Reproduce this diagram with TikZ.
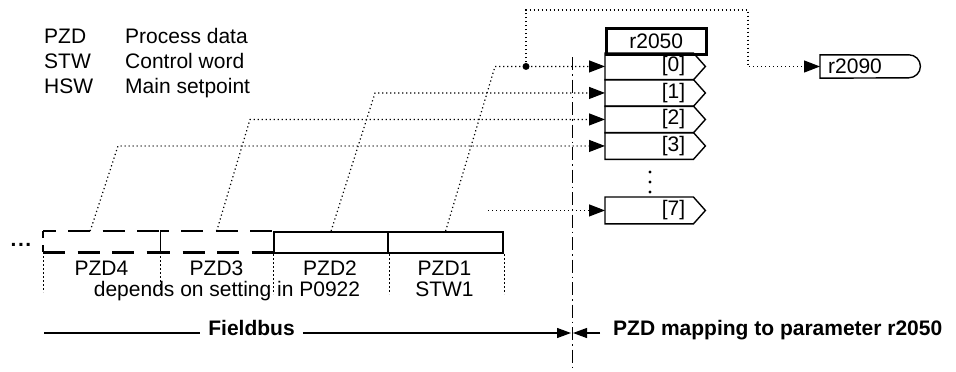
\documentclass[tikz,border=0pt]{standalone}
\usepackage{fontspec}
\setmainfont{Liberation Sans}
\usetikzlibrary{arrows.meta,calc}
\begin{document}
\begin{tikzpicture}[x=1pt,y=-1pt,
  every node/.style={font=\fontsize{21}{24}\selectfont},
  dotline/.style={line width=1.2pt, dash pattern=on 1.2pt off 2.8pt},
  inarrow/.style={-{Triangle[length=16pt,width=12pt]}},
  botarrow/.style={-{Triangle[length=14pt,width=10pt]}},
  thinline/.style={line width=1.1pt},
  slotbox/.style={minimum height=26.5pt, text width=72pt, inner xsep=8pt, inner ysep=0pt, align=right, anchor=north west},
  slotline/.style={line width=1.4pt},
  pzdbox/.style={minimum height=21pt, inner sep=0pt, anchor=north west},
  solidbox/.style={draw, line width=2.2pt},
  dashbox/.style={line width=2.2pt, dash pattern=on 22pt off 12.5pt},
  legend/.style={anchor=base west, inner sep=0pt},
  lab/.style={anchor=base, inner sep=0pt},
  underline/.style={line width=0.8pt, dash pattern=on 2pt off 2pt},
  dashdot/.style={line width=1pt, dash pattern=on 13pt off 4pt on 1.5pt off 4pt}
]
\useasboundingbox (0,0) rectangle (956,372);

% legend
\node[legend] (l1a) at (44,43) {PZD};
\node[legend] (l1b) at (125,43) {Process data};
\node[legend] (l2a) at (44,68) {STW};
\node[legend] (l2b) at (125,68) {Control word};
\node[legend] (l3a) at (44,93) {HSW};
\node[legend] (l3b) at (125,93) {Main setpoint};

% parameter r2050
\node[draw, line width=2.5pt, minimum width=100pt, minimum height=26pt, inner sep=0pt, anchor=north west] (r2050) at (605,27) {r2050};
\node[slotbox] (s0) at (605,53) {[0]};
\node[slotbox] (s1) at (605,79.5) {[1]};
\node[slotbox] (s2) at (605,106) {[2]};
\node[slotbox] (s3) at (605,132.5) {[3]};
\node[slotbox] (s7) at (605,197) {[7]};
\foreach \s in {s0,s1,s2,s3,s7}
  \draw[slotline] (\s.south east) -- (\s.south west) -- (\s.north west) -- (\s.north east) -- ($(\s.east)+(12,0)$) -- cycle;
\foreach \y in {172,182,192}
  \fill (650,\y) circle (1.7pt);

% r2090
\node[minimum width=100pt, minimum height=23pt, text width=84pt, inner xsep=8pt, inner ysep=0pt, align=left, anchor=west] (r2090) at (820,66.5) {r2090};
\draw[slotline] (r2090.north west) -- ([xshift=-11.5pt]r2090.north east) arc[start angle=90,end angle=-90,radius=11.5pt] -- (r2090.south west) -- cycle;

% fieldbus PZD boxes
\node[pzdbox, minimum width=117pt] (p4) at (43,231) {};
\node[pzdbox, minimum width=113pt] (p3) at (160,231) {};
\node[pzdbox, solidbox, minimum width=114pt] (p2) at (273,231) {};
\node[pzdbox, solidbox, minimum width=115pt] (p1) at (387,231) {};
\draw[dashbox, dash phase=9.5pt] (p4.north west) -- (p4.north east);
\draw[dashbox, dash phase=0pt] (p4.south west) -- (p4.south east);
\draw[dashbox, dash phase=13.5pt] (p3.north west) -- (p3.north east);
\draw[dashbox, dash phase=12pt] (p3.south west) -- (p3.south east);
\draw[line width=2.2pt, dash pattern=on 7pt off 7pt on 7pt] (p4.north west) -- (p4.south west);
\draw[line width=1pt] (p4.north east) -- (p4.south east);
\foreach \a in {p4.south west, p4.south east, p2.south west, p2.south east, p1.south east}
  \draw[underline] (\a) -- ++(0,40);
\node[anchor=base, inner sep=0pt] (dots) at (21,246.5) {\textbf{.\kern1.5pt.\kern1.5pt.}};

\node[lab] (t4) at (101.5,275) {PZD4};
\node[lab] (t3) at (216.5,275) {PZD3};
\node[lab] (t2) at (330,275) {PZD2};
\node[lab] (t1) at (444.5,275) {PZD1};
\node[lab] (dep) at (227,296) {depends on setting in P0922};
\node[lab] (stw) at (444.5,296) {STW1};

% mapping lines
\coordinate (c0) at (s0.west -| 495,0);
\coordinate (c1) at (s1.west -| 375,0);
\coordinate (c2) at (s2.west -| 250,0);
\coordinate (c3) at (s3.west -| 118,0);
\coordinate (c7) at (s7.west -| 488,0);
\coordinate (j) at (s0.west -| 526,0);
\coordinate (t1) at (526,10);
\coordinate (t2) at (748,10);
\coordinate (t3) at (r2090.west -| 748,0);
\draw[dotline, inarrow] (p1.north) -- (c0) -- (s0.west);
\draw[dotline, inarrow] (p2.north) -- (c1) -- (s1.west);
\draw[dotline, inarrow] (p3.north) -- (c2) -- (s2.west);
\draw[dotline, inarrow] ([xshift=-11.5pt]p4.north) -- (c3) -- (s3.west);
\draw[dotline, inarrow] (c7) -- (s7.west);
\draw[dotline, inarrow] (j) -- (t1) -- (t2) -- (t3) -- (r2090.west);
\fill (j) circle (3.5pt);

% separator
\coordinate (dtop) at (572,57);
\coordinate (dbot) at (572,372);
\draw[dashdot] (dtop) -- (dbot);

% bottom legend
\node[anchor=mid, inner xsep=8pt] (fb) at (251.5,333) {\bfseries Fieldbus};
\node[anchor=mid west, inner xsep=13pt] (pm) at (600,333) {\bfseries PZD mapping to parameter r2050};
\coordinate (fl) at (44,333);
\coordinate (fa) at (571,333);
\coordinate (fa2) at (573,333);
\draw[thinline] (fl) -- (fb.mid west);
\draw[thinline, botarrow] (fb.mid east) -- (fa);
\draw[thinline, botarrow] (pm.mid west) -- (fa2);
\end{tikzpicture}
\end{document}
